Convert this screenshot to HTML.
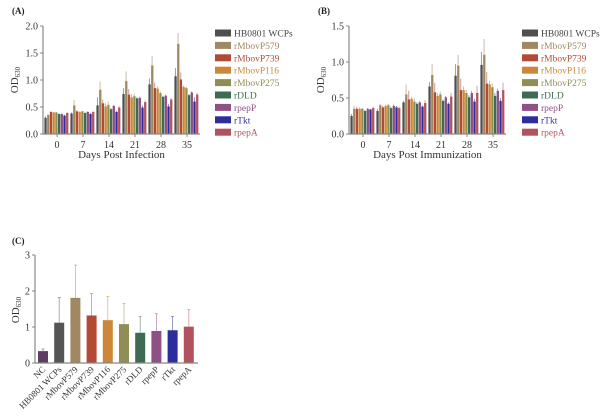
<!DOCTYPE html>
<html><head><meta charset="utf-8"><style>
html,body{margin:0;padding:0;background:#fff;}
svg{display:block;font-family:"Liberation Serif",serif;}
</style></head><body>
<svg id="chart" width="600" height="416" viewBox="0 0 600 416" xmlns="http://www.w3.org/2000/svg"></svg>
<script>
const seriesNames=["HB0801 WCPs","rMbovP579","rMbovP739","rMbovP116","rMbovP275","rDLD","rpepP","rTkt","rpepA"];
const seriesColors=["#4f4f4f","#a08862","#b24a36","#cc8838","#8f8f55","#3f6b52","#8f5086","#2b2e9c","#b2525f"];
const days=["0","7","14","21","28","35"];
const aValues=[
[.30,.38,.53,.74,.92,1.07],
[.35,.53,.82,.98,1.27,1.67],
[.41,.42,.57,.73,.85,1.01],
[.40,.41,.51,.68,.84,.87],
[.40,.42,.54,.70,.76,.85],
[.37,.39,.46,.66,.69,.72],
[.37,.41,.52,.67,.71,.77],
[.34,.37,.41,.49,.51,.60],
[.39,.41,.49,.59,.64,.73]];
const aErrors=[
[.03,.02,.15,.11,.11,.15],
[.02,.10,.15,.18,.18,.20],
[.01,.02,.07,.10,.10,.13],
[.01,.01,.06,.06,.04,.03],
[.01,.01,.06,.05,.03,.03],
[.01,.01,.02,.02,.02,.02],
[.01,.01,.02,.02,.02,.02],
[.02,.02,.02,.04,.05,.08],
[.01,.01,.03,.03,.02,.03]];
const bValues=[
[.25,.32,.44,.66,.81,.96],
[.35,.40,.55,.82,.95,1.10],
[.35,.37,.48,.58,.61,.70],
[.35,.39,.49,.53,.61,.69],
[.35,.40,.45,.55,.57,.65],
[.32,.36,.42,.46,.51,.53],
[.35,.39,.44,.51,.57,.60],
[.34,.37,.38,.42,.45,.46],
[.36,.36,.43,.52,.57,.61]];
const bErrors=[
[.03,.03,.02,.06,.16,.18],
[.04,.02,.14,.15,.15,.22],
[.03,.02,.12,.13,.16,.16],
[.02,.02,.02,.04,.05,.05],
[.01,.02,.04,.04,.04,.05],
[.01,.02,.02,.02,.03,.04],
[.01,.02,.02,.02,.03,.03],
[.01,.02,.02,.02,.04,.04],
[.02,.02,.04,.05,.10,.10]];
const cNames=["NC","HB0801 WCPs","rMbovP579","rMbovP739","rMbovP116","rMbovP275","rDLD","rpepP","rTkt","rpepA"];
const cColors=["#5e3f62","#555555","#a08862","#b24a36","#cc8838","#8f8f55","#3f6b52","#8f5086","#2b2e9c","#b2525f"];
const cValues=[.33,1.12,1.81,1.32,1.19,1.08,.84,.89,.91,1.01];
const cErrors=[.06,.70,.91,.61,.66,.57,.45,.48,.38,.47];

const svg=document.getElementById('chart');
const NS="http://www.w3.org/2000/svg";
function el(tag,attrs,parent){const e=document.createElementNS(NS,tag);for(const k in attrs)e.setAttribute(k,attrs[k]);(parent||svg).appendChild(e);return e;}
function txt(s,attrs,parent){const e=el('text',attrs,parent);e.textContent=s;return e;}

function groupedPanel(id,ox,yMax,ticks,vals,errs,title,label){
  const g=el('g',{});
  
  
  const x0=ox,x1=ox+157,yTop=26,yBot=134;
  const yS=v=>yBot-(v/yMax)*(yBot-yTop);
  const gw=(x1-x0-1)/6, bw=gw/9.6;
  const lab=txt('('+id.toUpperCase()+')',{x:ox-31,y:14,'font-size':9,'font-weight':'bold',fill:'#222'},g);
  
  
  for(let s=0;s<9;s++)for(let d=0;d<6;d++){
    const v=vals[s][d],e=errs[s][d];
    const bx=x0+1+d*gw+s*bw+bw*0.15;
    const cx=bx+bw*0.35;
    const eb=el('line',{x1:cx,x2:cx,y1:yS(v),y2:yS(v+e),stroke:seriesColors[s],'stroke-width':0.8,opacity:0.7},g);
    
    
    const r=el('rect',{x:bx,y:yS(v),width:bw*0.85,height:yBot-yS(v),fill:seriesColors[s]},g);
    
    
  }
  el('line',{x1:x0,x2:x0,y1:yTop,y2:yBot,stroke:'#888','stroke-width':1.2},g);
  el('line',{x1:x0,x2:x1,y1:yBot,y2:yBot,stroke:'#888','stroke-width':1.2},g);
  ticks.forEach(t=>{
    el('line',{x1:x0-3,x2:x0,y1:yS(t),y2:yS(t),stroke:'#888'},g);
    const tl=txt(t.toFixed(1),{x:x0-5,y:yS(t)+3.5,'font-size':10,'text-anchor':'end',fill:'#333'},g);
    
    
  });
  days.forEach((d,i)=>{
    const cx=x0+1+i*gw+gw/2;
    el('line',{x1:cx,x2:cx,y1:yBot,y2:yBot+3,stroke:'#888'},g);
    const tl=txt(d,{x:cx,y:yBot+14,'font-size':10,'text-anchor':'middle',fill:'#333'},g);
    
    
  });
  const yt=el('text',{x:0,y:0,'font-size':11,'text-anchor':'middle',fill:'#333',transform:'translate('+(ox-25)+',80) rotate(-90)'},g);
  yt.innerHTML='OD<tspan font-size="7" dy="2">630</tspan>';
  
  
  const xt=txt(title,{x:(x0+x1)/2,y:158,'font-size':11,'text-anchor':'middle',fill:'#333'},g);
  
  
  seriesNames.forEach((n,i)=>{
    const y=33+i*12.4;
    const le=el('g',{},g);
    
    
    el('rect',{x:label,y:y-3.5,width:16,height:7,fill:seriesColors[i]},le);
    txt(n,{x:label+19,y:y+3.5,'font-size':9.5,fill:seriesColors[i]==='#4f4f4f'?'#444':seriesColors[i]},le);
  });
}
groupedPanel('a',43,2.0,[0,0.5,1.0,1.5,2.0],aValues,aErrors,'Days Post Infection',215);
groupedPanel('b',349,1.5,[0,0.5,1.0,1.5],bValues,bErrors,'Days Post Immunization',522);

// Panel C
(function(){
  const g=el('g',{});
  
  
  const x0=35,x1=198,yTop=255,yBot=363,yMax=3;
  const yS=v=>yBot-(v/yMax)*(yBot-yTop);
  const step=16.2,bw=10;
  const lab=txt('(C)',{x:12,y:244,'font-size':9,'font-weight':'bold',fill:'#222'},g);
  
  
  cValues.forEach((v,i)=>{
    const cx=43+i*step;
    const e=cErrors[i];
    el('line',{x1:cx,x2:cx,y1:yS(v),y2:yS(v+e),stroke:cColors[i],'stroke-width':0.8,opacity:0.6},g);
    el('line',{x1:cx-1.5,x2:cx+1.5,y1:yS(v+e),y2:yS(v+e),stroke:cColors[i],'stroke-width':0.8,opacity:0.6},g);
    const r=el('rect',{x:cx-bw/2,y:yS(v),width:bw,height:yBot-yS(v),fill:cColors[i]},g);
    
    
    const t=txt(cNames[i],{x:0,y:0,'font-size':9,'text-anchor':'end',fill:'#333',transform:'translate('+(cx+3)+','+(yBot+7)+') rotate(-45)'},g);
    
    
  });
  el('line',{x1:x0,x2:x0,y1:yTop,y2:yBot,stroke:'#888','stroke-width':1.2},g);
  el('line',{x1:x0,x2:x1,y1:yBot,y2:yBot,stroke:'#888','stroke-width':1.2},g);
  [0,1,2,3].forEach(t=>{
    el('line',{x1:x0-3,x2:x0,y1:yS(t),y2:yS(t),stroke:'#888'},g);
    const tl=txt(String(t),{x:x0-5,y:yS(t)+3.5,'font-size':10,'text-anchor':'end',fill:'#333'},g);
    
    
  });
  const yt=el('text',{x:0,y:0,'font-size':11,'text-anchor':'middle',fill:'#333',transform:'translate(19,310) rotate(-90)'},g);
  yt.innerHTML='OD<tspan font-size="7" dy="2">630</tspan>';
  
  
})();
</script>
</body></html>
